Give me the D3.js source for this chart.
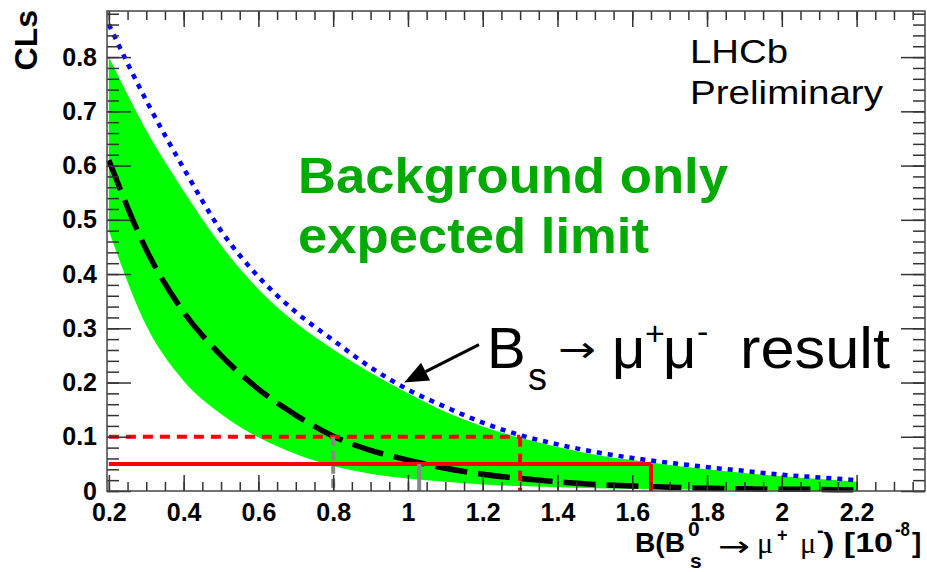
<!DOCTYPE html>
<html>
<head>
<meta charset="utf-8">
<script src="https://cdn.jsdelivr.net/npm/d3@7"></script>
<style>
  body { margin: 0; background: #fff; }
  svg { display: block; font-family: "Liberation Sans", Arial, Helvetica, sans-serif; }
</style>
</head>
<body>
<div id="chart"></div>
<script>
// branching fraction points, units of 1e-8
const bValues = [0.2, 0.3, 0.4, 0.5, 0.6, 0.7, 0.8, 0.9, 1.0, 1.1, 1.2, 1.3, 1.4, 1.5, 1.6, 1.7, 1.8, 1.9, 2.0, 2.1, 2.2];
// observed CLs (blue dotted)
const clsObserved = [0.86, 0.72, 0.595, 0.48, 0.395, 0.33, 0.278, 0.228, 0.187, 0.155, 0.126, 0.103, 0.086, 0.072, 0.061, 0.052, 0.044, 0.037, 0.030, 0.025, 0.020];
// background-only expected median (black dashed)
const clsExpected = [0.61, 0.445, 0.33, 0.25, 0.188, 0.14, 0.101, 0.075, 0.057, 0.042, 0.031, 0.023, 0.017, 0.012, 0.009, 0.007, 0.005, 0.004, 0.003, 0.003, 0.002];
// +-1 sigma band (green)
const bandUpper = [0.80, 0.665, 0.553, 0.453, 0.372, 0.31, 0.261, 0.218, 0.18, 0.146, 0.119, 0.098, 0.081, 0.067, 0.057, 0.048, 0.040, 0.033, 0.027, 0.022, 0.017];
const bandLower = [0.48, 0.305, 0.203, 0.142, 0.099, 0.068, 0.046, 0.032, 0.023, 0.017, 0.012, 0.009, 0.007, 0.005, 0.004, 0.003, 0.002, 0.001, 0.001, 0.0, 0.0];

const clLevels = [0.1, 0.05];          // 90% and 95% CL
const observedLimits = [1.3, 1.65];    // red verticals
const expectedLimits = [0.8, 1.03];    // grey verticals

const xTickValues = [0.2, 0.4, 0.6, 0.8, 1.0, 1.2, 1.4, 1.6, 1.8, 2.0, 2.2];
const xTickLabels = ["0.2", "0.4", "0.6", "0.8", "1", "1.2", "1.4", "1.6", "1.8", "2", "2.2"];
const yTickValues = [0, 0.1, 0.2, 0.3, 0.4, 0.5, 0.6, 0.7, 0.8];
const yTickLabels = ["0", "0.1", "0.2", "0.3", "0.4", "0.5", "0.6", "0.7", "0.8"];

const W = 927, H = 572;
const frame = { left: 107, right: 925, top: 11, bottom: 491 };

const svg = d3.select("#chart").append("svg")
  .attr("width", W).attr("height", H);

const x = d3.scaleLinear().domain([0.195, 2.383]).range([frame.left, frame.right]);
const y = d3.scaleLinear().domain([0, 0.885]).range([frame.bottom, frame.top]);

const pts = bValues.map((b, i) => ({
  b: b, obs: clsObserved[i], exp: clsExpected[i], hi: bandUpper[i], lo: bandLower[i]
}));

// green band
const band = d3.area()
  .x(d => x(d.b)).y0(d => y(d.lo)).y1(d => y(d.hi))
  .curve(d3.curveMonotoneX);
svg.append("path").datum(pts)
  .attr("d", band)
  .attr("fill", "#00ff00");

// expected median
const lineExp = d3.line().x(d => x(d.b)).y(d => y(d.exp)).curve(d3.curveMonotoneX);
svg.append("path").datum(pts)
  .attr("d", lineExp)
  .attr("fill", "none")
  .attr("stroke", "#000")
  .attr("stroke-width", 5.5)
  .attr("stroke-dasharray", "32,11");

// observed
const lineObs = d3.line().x(d => x(d.b)).y(d => y(d.obs)).curve(d3.curveMonotoneX);
svg.append("path").datum(pts)
  .attr("d", lineObs)
  .attr("fill", "none")
  .attr("stroke", "#0000ff")
  .attr("stroke-width", 4.5)
  .attr("stroke-dasharray", "5,6");

// CL lines (dashed = 90%, solid = 95%)
clLevels.forEach((cl, i) => {
  const dash = i === 0 ? "10,7" : null;
  svg.append("line")
    .attr("x1", x(bValues[0])).attr("x2", x(observedLimits[i]))
    .attr("y1", y(cl)).attr("y2", y(cl))
    .attr("stroke", "#ff0000").attr("stroke-width", 4)
    .attr("stroke-dasharray", dash);
  svg.append("line")
    .attr("x1", x(observedLimits[i])).attr("x2", x(observedLimits[i]))
    .attr("y1", y(cl)).attr("y2", y(0))
    .attr("stroke", "#ff0000").attr("stroke-width", 4)
    .attr("stroke-dasharray", dash);
  svg.append("line")
    .attr("x1", x(expectedLimits[i])).attr("x2", x(expectedLimits[i]))
    .attr("y1", y(cl)).attr("y2", y(0))
    .attr("stroke", "#888").attr("stroke-width", 4)
    .attr("stroke-dasharray", i === 0 ? "9,5" : null);
});

// axes: ROOT style, ticks pointing inward on all four sides
const minorX = d3.range(0.2, 2.38, 0.05);
const minorY = d3.range(0, 0.885, 0.02);
const axisColor = "#333";

function styleAxis(g) {
  g.select(".domain").remove();
  g.selectAll(".tick line").attr("stroke", axisColor).attr("stroke-width", 1.5);
}

svg.append("g").attr("transform", `translate(0,${frame.bottom})`)
  .call(d3.axisBottom(x).tickValues(minorX).tickSize(-9).tickFormat(""))
  .call(styleAxis);
svg.append("g").attr("transform", `translate(0,${frame.top})`)
  .call(d3.axisTop(x).tickValues(minorX).tickSize(-9).tickFormat(""))
  .call(styleAxis);
svg.append("g").attr("transform", `translate(${frame.left},0)`)
  .call(d3.axisLeft(y).tickValues(minorY).tickSize(-12).tickFormat(""))
  .call(styleAxis);
svg.append("g").attr("transform", `translate(${frame.right},0)`)
  .call(d3.axisRight(y).tickValues(minorY).tickSize(-12).tickFormat(""))
  .call(styleAxis);

const xAxis = svg.append("g").attr("transform", `translate(0,${frame.bottom})`)
  .call(d3.axisBottom(x).tickValues(xTickValues).tickSize(-16).tickPadding(12)
    .tickFormat((d, i) => xTickLabels[i]))
  .call(styleAxis);
svg.append("g").attr("transform", `translate(0,${frame.top})`)
  .call(d3.axisTop(x).tickValues(xTickValues).tickSize(-16).tickFormat(""))
  .call(styleAxis);
const yAxis = svg.append("g").attr("transform", `translate(${frame.left},0)`)
  .call(d3.axisLeft(y).tickValues(yTickValues).tickSize(-24).tickPadding(10)
    .tickFormat((d, i) => yTickLabels[i]))
  .call(styleAxis);
svg.append("g").attr("transform", `translate(${frame.right},0)`)
  .call(d3.axisRight(y).tickValues(yTickValues).tickSize(-24).tickFormat(""))
  .call(styleAxis);

[xAxis, yAxis].forEach(g => g.selectAll(".tick text")
  .attr("fill", "#000")
  .style("font-family", "'Liberation Sans', Arial, sans-serif")
  .style("font-size", "25px")
  .style("font-weight", "bold"));

svg.append("rect")
  .attr("x", frame.left).attr("y", frame.top)
  .attr("width", frame.right - frame.left).attr("height", frame.bottom - frame.top)
  .attr("fill", "none").attr("stroke", "#444").attr("stroke-width", 1.5);

// y title
svg.append("text")
  .attr("transform", "translate(37,10) rotate(-90)")
  .attr("text-anchor", "end")
  .style("font-size", "32px").style("font-weight", "bold")
  .text("CLs");

// x title, pieces laid out like the ROOT latex
function piece(txt, px, py, size, opts) {
  opts = opts || {};
  const t = svg.append("text")
    .attr("x", px).attr("y", py)
    .style("font-size", size + "px")
    .style("font-weight", opts.weight || "bold")
    .style("font-family", opts.family || null)
    .attr("fill", opts.fill || "#000")
    .text(txt);
  if (opts.len) t.attr("textLength", opts.len).attr("lengthAdjust", "spacingAndGlyphs");
  return t;
}
const serif = "'Liberation Serif', 'DejaVu Serif', serif";
piece("B(B", 635, 552, 28, { len: 50 });
piece("0", 688, 536, 21);
piece("s", 690, 568, 21);
piece("\u2192", 718, 556, 28, { weight: "normal", family: "'DejaVu Sans', sans-serif", len: 32 });
piece("\u03bc", 757, 553, 30, { weight: "normal", family: serif });
piece("+", 777, 541, 18);
piece("\u03bc", 800, 553, 30, { weight: "normal", family: serif });
piece("-", 817, 537, 20);
piece(") [10", 823, 552, 28, { len: 70 });
piece("-8", 895, 536, 20, { len: 15 });
piece("]", 912, 552, 28);

// annotations
piece("Background only", 298, 193, 50, { fill: "#00aa00", len: 430 });
piece("expected limit", 298, 253, 50, { fill: "#00aa00", len: 351 });
piece("LHCb", 690, 63, 34, { weight: "normal", len: 98 });
piece("Preliminary", 690, 104, 34, { weight: "normal", len: 193 });

piece("B", 487, 368, 58, { weight: "normal" });
piece("s", 528, 390, 38, { weight: "normal" });
piece("\u2192", 558, 362, 36, { weight: "normal", family: "'DejaVu Sans', sans-serif", len: 38 });
piece("\u03bc", 612, 368, 58, { weight: "normal" });
piece("+", 645, 345, 34, { weight: "normal" });
piece("\u03bc", 663, 368, 58, { weight: "normal" });
piece("-", 697, 343, 34, { weight: "normal" });
piece("result", 740, 368, 58, { weight: "normal", len: 150 });

// arrow pointing at the observed curve
const tail = [x(1.19), y(0.27)], tip = [x(0.99), y(0.2)];
const ang = Math.atan2(tip[1] - tail[1], tip[0] - tail[0]);
const headLen = 24, headW = 10;
const base = [tip[0] - headLen * Math.cos(ang), tip[1] - headLen * Math.sin(ang)];
svg.append("line")
  .attr("x1", tail[0]).attr("y1", tail[1]).attr("x2", base[0]).attr("y2", base[1])
  .attr("stroke", "#000").attr("stroke-width", 3);
svg.append("path")
  .attr("d", d3.line()([
    tip,
    [base[0] + headW * Math.sin(ang), base[1] - headW * Math.cos(ang)],
    [base[0] - headW * Math.sin(ang), base[1] + headW * Math.cos(ang)]
  ]) + "Z")
  .attr("fill", "#000");
</script>
</body>
</html>
